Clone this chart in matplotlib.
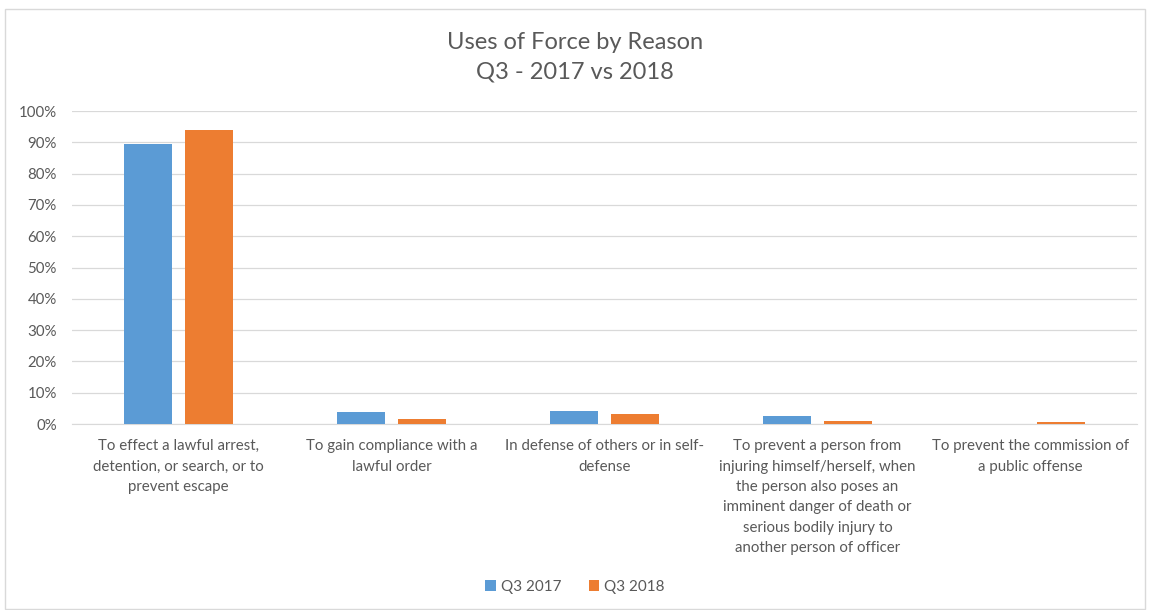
import numpy as np
import matplotlib.pyplot as plt
from matplotlib.ticker import PercentFormatter
from matplotlib.patches import Rectangle

reasons = [
    "To effect a lawful arrest,\ndetention, or search, or to\nprevent escape",
    "To gain compliance with a\nlawful order",
    "In defense of others or in self-\ndefense",
    "To prevent a person from\ninjuring himself/herself, when\nthe person also poses an\nimminent danger of death or\nserious bodily injury to\nanother person of officer",
    "To prevent the commission of\na public offense",
]
q3_2017 = [89.3, 3.7, 4.0, 2.7, 0.0]
q3_2018 = [93.9, 1.6, 3.1, 0.9, 0.5]
series_names = ["Q3 2017", "Q3 2018"]

plt.rcParams['font.family'] = ['Lato', 'DejaVu Sans']
grey = '#595959'

fig = plt.figure(figsize=(11.5, 6.1), dpi=100)
ax = fig.add_axes([72/1150, 1-424/610, (1137-72)/1150, (424-111)/610])

x = np.arange(len(reasons))
w = 0.225
ax.bar(x - 0.143, q3_2017, w, color='#5b9bd5', label=series_names[0], zorder=3)
ax.bar(x + 0.143, q3_2018, w, color='#ed7d31', label=series_names[1], zorder=3)

ax.set_xlim(-0.5, len(reasons) - 0.5)
ax.set_ylim(0, 100)
ax.set_yticks(np.arange(0, 101, 10))
ax.yaxis.set_major_formatter(PercentFormatter(decimals=0))
ax.grid(axis='y', color='#d9d9d9', linewidth=0.9, zorder=0)
for s in ['top', 'right', 'left']:
    ax.spines[s].set_visible(False)
ax.spines['bottom'].set_color('#d9d9d9')
ax.tick_params(axis='both', length=0, colors=grey, labelsize=10.8)
ax.tick_params(axis='y', pad=11)
ax.set_xticks(x)
ax.set_xticklabels(reasons, linespacing=1.58, va='top')
ax.tick_params(axis='x', pad=11)

fig.text(0.5, 1-57.5/610, "Uses of Force by Reason\nQ3 - 2017 vs 2018", ha='center', va='center',
         fontsize=17, color=grey, linespacing=1.5)

fig.legend(loc='center', bbox_to_anchor=(0.5, 1-587/610), ncol=2, frameon=False,
           fontsize=11, labelcolor=grey, handlelength=0.7, handleheight=0.7,
           handletextpad=0.3, columnspacing=1.8)

fig.patches.append(Rectangle((5/1150, 1-609/610), 1-10/1150, (609-9)/610,
                             transform=fig.transFigure, fill=False,
                             edgecolor='#d9d9d9', linewidth=1))

fig.savefig('out.png', dpi=100)
